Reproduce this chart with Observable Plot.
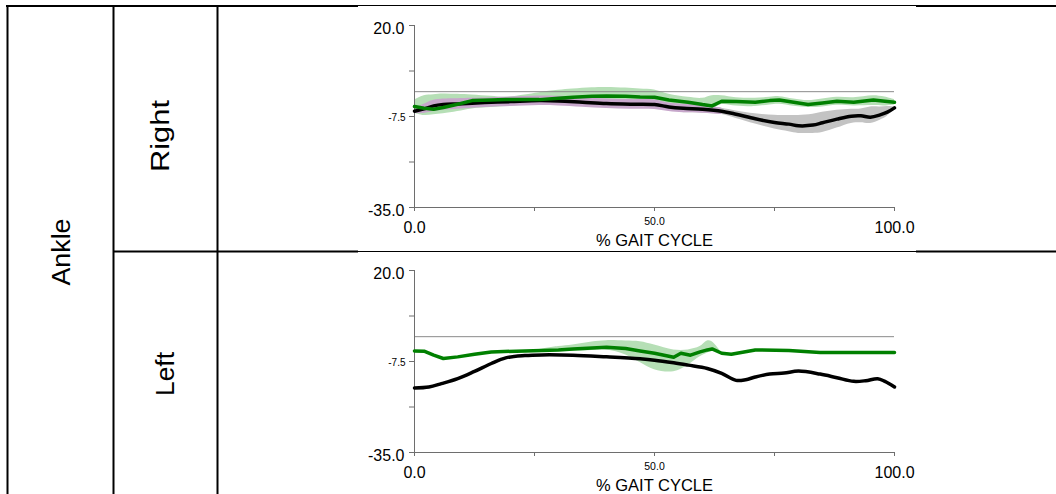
<!DOCTYPE html>
<html><head><meta charset="utf-8">
<script src="https://cdn.jsdelivr.net/npm/d3@7"></script>
<script src="https://cdn.jsdelivr.net/npm/@observablehq/plot@0.6"></script>
<style>
body{margin:0;background:#fff;}
#page{position:relative;width:1056px;height:494px;overflow:hidden;background:#fff;font-family:"Liberation Sans",Arial,sans-serif;}
#table{position:absolute;left:0;top:0;}
.chart{position:absolute;left:358px;}
</style></head><body><div id="page"></div>
<script>
// ---- Labels ----
const groupLabel = "Ankle";
const sideLabels = ["Right", "Left"];
const xTitle = "% GAIT CYCLE";
const yTicks = [20, 6.25, -7.5, -21.25, -35];
const yBigLabels = [20, -35];
const ySmallLabels = [-7.5];
const xTicks = [0, 25, 50, 75, 100];
const xBigLabels = [0, 100];
const xSmallLabels = [50];

// ---- Right side ----
const blackRX = [0,2,4,6,9,12,16,20,26,30,35,40,45,50,53,56,60,64,67,71,75,78,80,83,85,88,91,93,95,97,98.5,100];
const blackRY = [-5.9,-5.2,-4.3,-3.9,-3.7,-3.5,-3.2,-3.0,-2.7,-2.8,-3.2,-3.6,-3.8,-3.9,-4.6,-5.0,-5.3,-5.9,-6.8,-8.2,-9.3,-9.8,-10.3,-10.1,-9.4,-8.3,-7.4,-7.3,-7.7,-7.0,-6.2,-4.9];
const blackRLo = [-6.6,-6.6,-6.0,-5.6,-5.3,-5.0,-4.7,-4.5,-4.2,-4.3,-4.7,-5.1,-5.3,-5.4,-6.0,-6.4,-6.5,-6.9,-8.1,-9.8,-11.3,-12.1,-12.6,-12.6,-12.3,-11.0,-9.6,-9.4,-9.6,-8.6,-7.4,-5.4];
const blackRHi = [-5.2,-3.8,-2.6,-2.2,-2.1,-2.0,-1.8,-1.6,-1.3,-1.4,-1.8,-2.2,-2.4,-2.5,-3.4,-3.8,-4.2,-5.0,-5.8,-6.7,-7.1,-7.2,-7.2,-6.8,-6.2,-5.6,-5.3,-5.2,-4.6,-4.6,-4.5,-4.6];

const greenRX = [0,2,4,6,9,12,16,19,23,26,30,33,37,40,44,47,50,53,57,60,62,64,67,71,74,76,79,82,85,88,91.5,95.6,98,100];
const greenRY = [-4.5,-5.0,-5.3,-4.8,-3.8,-2.7,-2.5,-2.4,-2.4,-2.4,-2.0,-1.7,-1.4,-1.3,-1.4,-1.6,-1.7,-2.5,-3.2,-3.9,-4.3,-2.9,-3.0,-3.2,-2.7,-2.5,-3.2,-3.9,-3.4,-2.9,-3.2,-2.5,-2.9,-3.2];
const greenRLo = [-6.5,-7.2,-7.0,-6.7,-6.0,-5.2,-4.8,-4.5,-4.0,-3.8,-3.4,-3.2,-3.2,-3.2,-3.2,-3.2,-2.7,-3.8,-4.5,-4.8,-5.2,-3.9,-4.3,-4.5,-4.0,-3.8,-4.4,-4.8,-4.6,-4.1,-4.3,-4.2,-4.3,-4.0];
const greenRHi = [-2.5,-1.2,-0.9,-0.7,-0.8,-1.0,-1.4,-1.7,-1.0,-0.3,0.4,0.8,1.2,1.3,1.1,0.8,0.5,-0.8,-1.7,-2.0,-1.2,-1.2,-1.8,-2.0,-1.7,-1.5,-2.2,-2.7,-2.2,-1.7,-1.8,-1.2,-1.6,-2.4];

// ---- Left side ----
const blackLX = [0,3,5.6,9,12.5,16,19,23,26.5,33,40,47,50,54,57,61,64,67,69,71,74,77,80,84.5,88,91.5,94,96.5,98,100];
const blackLY = [-15.5,-15.2,-14.2,-12.7,-10.5,-8.1,-6.4,-5.7,-5.5,-5.6,-6.1,-6.7,-7.1,-7.9,-8.6,-9.6,-11.1,-13.2,-13.0,-12.2,-11.3,-11.0,-10.4,-11.3,-12.4,-13.5,-13.3,-12.7,-13.5,-15.2];

const greenLX = [0,2,4,6,9,12.5,16,23,30,33,37,40,44,47,50,52,54,55.5,57.5,59.5,61,62,64,66,71,78,84.5,100];
const greenLY = [-4.3,-4.4,-5.6,-6.6,-6.1,-5.3,-4.6,-4.3,-4.0,-3.7,-3.4,-3.2,-3.6,-4.3,-5.0,-5.6,-6.2,-5.0,-5.6,-4.6,-4.0,-3.7,-5.0,-5.3,-4.0,-4.2,-4.8,-4.8];
const bandLX = [26,30,33,37,40,44,47,50,54,57,59.5,61,62,64];
const bandLLo = [-4.2,-4.4,-4.4,-4.2,-4.0,-5.5,-7.8,-10.0,-10.6,-8.6,-6.1,-5.0,-4.5,-5.1];
const bandLHi = [-3.9,-3.0,-2.5,-1.6,-1.2,-1.3,-1.5,-2.5,-4.0,-4.0,-3.0,-1.3,-1.5,-4.9];

// ---- Styles ----
const axisColor = "#6e6e6e";
const zeroColor = "#8a8a8a";
const greenLine = "#008000";
const greenBand = "#b6dfb6";
const purpleBand = "#c7a7cb";
const greyBand = "#c3c3c3";
const fontFamily = '"Liberation Sans", Arial, sans-serif';

const rows = (xs, ys, lo, hi) => xs.map((x, i) => ({x, y: ys ? ys[i] : null, lo: lo ? lo[i] : null, hi: hi ? hi[i] : null}));

function chart(parts) {
  const marks = [];
  if (parts.greenBand) marks.push(Plot.areaY(parts.greenBand, {x: "x", y1: "lo", y2: "hi", fill: greenBand, curve: "catmull-rom"}));
  if (parts.blackBand) {
    marks.push(Plot.areaY(parts.blackBand, {filter: d => d.x >= 56, x: "x", y1: "lo", y2: "hi", fill: greyBand, curve: "catmull-rom"}));
    marks.push(Plot.areaY(parts.blackBand, {filter: d => d.x <= 64, x: "x", y1: "lo", y2: "hi", fill: purpleBand, curve: "catmull-rom"}));
  }
  marks.push(
    Plot.ruleY([0], {x1: 0, x2: 100, stroke: zeroColor, strokeWidth: 1}),
    Plot.ruleX([0], {y1: -35, y2: 20, stroke: axisColor}),
    Plot.ruleY([-35], {x1: 0, x2: 100, stroke: axisColor}),
    Plot.axisY(yTicks, {tickSize: 5, tickFormat: () => "", label: null, stroke: axisColor}),
    Plot.axisX(xTicks, {tickSize: 4, tickFormat: () => "", label: null, stroke: axisColor}),
    Plot.text(yBigLabels, {x: () => 0, y: d => d, text: d => d.toFixed(1), textAnchor: "end", dx: -10, dy: 3, fontSize: 16, fill: "#000"}),
    Plot.text(ySmallLabels, {x: () => 0, y: d => d, text: d => d.toFixed(1), textAnchor: "end", dx: -9, dy: 1.5, fontSize: 10, fill: "#000"}),
    Plot.text(xBigLabels, {x: d => d, y: () => -35, text: d => d.toFixed(1), dy: 20, fontSize: 16, fill: "#000"}),
    Plot.text(xSmallLabels, {x: d => d, y: () => -35, text: d => d.toFixed(1), dy: 14, fontSize: 10.5, fill: "#000"}),
    Plot.text([xTitle], {x: () => 50, y: () => -35, text: d => d, dy: 33, fontSize: 16.5, fill: "#000"}),
    Plot.line(parts.black, {x: "x", y: "y", stroke: "#000", strokeWidth: 3.5, curve: "catmull-rom"}),
    Plot.line(parts.green, {x: "x", y: "y", stroke: greenLine, strokeWidth: 3.5})
  );
  return Plot.plot({
    width: 558, height: 243,
    marginLeft: 56, marginRight: 22, marginTop: 18, marginBottom: 43,
    x: {domain: [0, 100], axis: null},
    y: {domain: [-35, 20], axis: null},
    style: {fontFamily, background: "transparent", overflow: "visible"},
    marks
  });
}

const page = document.getElementById("page");

// ---- Table frame ----
const svg = d3.select(page).append("svg").attr("id", "table").attr("width", 1056).attr("height", 494);
const L = (x1, y1, x2, y2, w) => svg.append("line").attr("x1", x1).attr("y1", y1).attr("x2", x2).attr("y2", y2).attr("stroke", "#000").attr("stroke-width", w);
L(6, 6, 358, 6, 2); L(358, 5.5, 916, 5.5, 1); L(916, 6, 1056, 6, 2);
L(113, 251.5, 358, 251.5, 2); L(358, 251.5, 916, 251.5, 1); L(916, 251.5, 1056, 251.5, 2);
L(7.5, 5, 7.5, 494, 2); L(113.5, 5, 113.5, 494, 2); L(217.5, 5, 217.5, 494, 2);
const T = (x, y, s, len) => svg.append("text").attr("transform", `translate(${x},${y}) rotate(-90)`)
  .attr("text-anchor", "middle").attr("font-family", fontFamily).attr("font-size", 25)
  .attr("textLength", len).attr("lengthAdjust", "spacingAndGlyphs").text(s);
T(70, 252, groupLabel, 67);
T(169, 136, sideLabels[0], 72);
T(174, 374, sideLabels[1], 44);

// ---- Charts ----
const right = chart({
  black: rows(blackRX, blackRY), blackBand: rows(blackRX, blackRY, blackRLo, blackRHi),
  green: rows(greenRX, greenRY), greenBand: rows(greenRX, greenRY, greenRLo, greenRHi)
});
right.classList.add("chart"); right.style.top = "7px";
page.appendChild(right);

const left = chart({
  black: rows(blackLX, blackLY),
  green: rows(greenLX, greenLY), greenBand: rows(bandLX, null, bandLLo, bandLHi)
});
left.classList.add("chart"); left.style.top = "252px";
page.appendChild(left);
</script></body></html>
